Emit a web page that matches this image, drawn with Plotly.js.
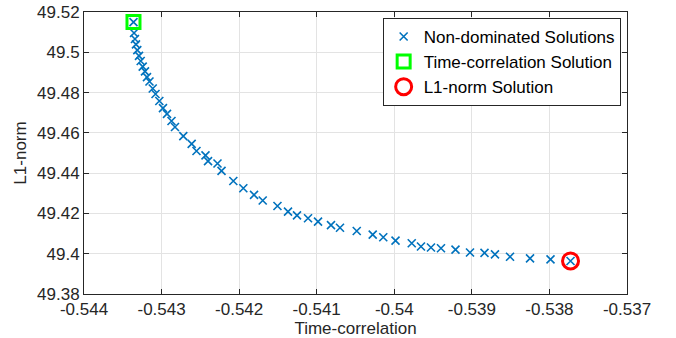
<!DOCTYPE html>
<html>
<head>
<meta charset="utf-8">
<script src="https://cdn.plot.ly/plotly-3.0.1.min.js"></script>
<style>html,body{margin:0;padding:0;background:#fff;}#chart{width:676px;height:338px;}</style>
</head>
<body>
<div id="chart"></div>
<script>
const timeCorr = [-0.543362,-0.543355,-0.543343,-0.543330,-0.543313,-0.543291,-0.543269,-0.543243,-0.543214,-0.543188,
  -0.543156,-0.543114,-0.543078,-0.543029,-0.542982,-0.542930,-0.542872,-0.542827,-0.542720,-0.542612,
  -0.542550,-0.542434,-0.542401,-0.542279,-0.542227,-0.542075,-0.541946,-0.541808,-0.541696,-0.541506,
  -0.541370,-0.541254,-0.541112,-0.540983,-0.540816,-0.540700,-0.540484,-0.540278,-0.540142,-0.539984,
  -0.539775,-0.539656,-0.539527,-0.539398,-0.539211,-0.539024,-0.538837,-0.538702,-0.538508,-0.538250,
  -0.537986,-0.537728];
const l1Norm = [49.5150,49.5096,49.5066,49.5039,49.5011,49.4982,49.4957,49.4929,49.4905,49.4877,
  49.4855,49.4820,49.4793,49.4758,49.4723,49.4694,49.4659,49.4629,49.4584,49.4545,
  49.4510,49.4488,49.4460,49.4448,49.4411,49.4361,49.4325,49.4292,49.4264,49.4237,
  49.4209,49.4190,49.4176,49.4159,49.4142,49.4129,49.4113,49.4095,49.4082,49.4065,
  49.4052,49.4036,49.4031,49.4027,49.4020,49.4006,49.4004,49.3997,49.3985,49.3977,
  49.3972,49.3964];
const timeCorrSolution = {x: [-0.543362], y: [49.5150]};
const l1NormSolution = {x: [-0.537728], y: [49.3964]};
const seriesNames = ['Non-dominated Solutions', 'Time-correlation Solution', 'L1-norm Solution'];
const xTicks = [-0.544,-0.543,-0.542,-0.541,-0.54,-0.539,-0.538,-0.537];
const yTicks = [49.38,49.4,49.42,49.44,49.46,49.48,49.5,49.52];

const fontFam = 'Arial, "Liberation Sans", Helvetica, sans-serif';
const traces = [
  {x: timeCorr, y: l1Norm, mode: 'markers', type: 'scatter', name: seriesNames[0],
   marker: {symbol: 'x-thin', size: 8, color: '#0072BD', line: {color: '#0072BD', width: 1.6}}},
  {x: timeCorrSolution.x, y: timeCorrSolution.y, mode: 'markers', type: 'scatter', name: seriesNames[1],
   marker: {symbol: 'square-open', size: 13, color: '#00FF00', line: {color: '#00FF00', width: 3}}},
  {x: l1NormSolution.x, y: l1NormSolution.y, mode: 'markers', type: 'scatter', name: seriesNames[2],
   marker: {symbol: 'circle-open', size: 16, color: '#FF0000', line: {color: '#FF0000', width: 3}}}
];
const axisCommon = {
  showline: true, linecolor: '#262626', linewidth: 1, mirror: 'allticks',
  ticks: 'inside', ticklen: 5, tickwidth: 1, tickcolor: '#262626',
  showgrid: true, gridcolor: '#e3e3e3', gridwidth: 1, zeroline: false,
  tickfont: {family: fontFam, size: 17, color: '#262626'}
};
const layout = {
  width: 676, height: 338,
  margin: {l: 84, r: 49, t: 12, b: 44},
  paper_bgcolor: '#ffffff', plot_bgcolor: '#ffffff',
  showlegend: true,
  font: {family: fontFam, size: 17, color: '#262626'},
  xaxis: Object.assign({}, axisCommon, {
    range: [-0.544, -0.537], tickvals: xTicks, ticktext: xTicks.map(String),
    title: {text: 'Time-correlation', font: {family: fontFam, size: 17, color: '#262626'}, standoff: 0}
  }),
  yaxis: Object.assign({}, axisCommon, {
    range: [49.38, 49.52], tickvals: yTicks, ticktext: yTicks.map(String),
    title: {text: 'L1-norm', font: {family: fontFam, size: 17, color: '#262626'}, standoff: 6}
  }),
  legend: {
    x: 0.55, y: 0.979, xanchor: 'left', yanchor: 'top',
    bgcolor: '#ffffff', bordercolor: '#262626', borderwidth: 1,
    font: {family: fontFam, size: 17, color: '#000000'},
    tracegroupgap: 0, itemwidth: 30
  }
};
Plotly.newPlot('chart', traces, layout, {displayModeBar: false, staticPlot: true});
</script>
</body>
</html>
